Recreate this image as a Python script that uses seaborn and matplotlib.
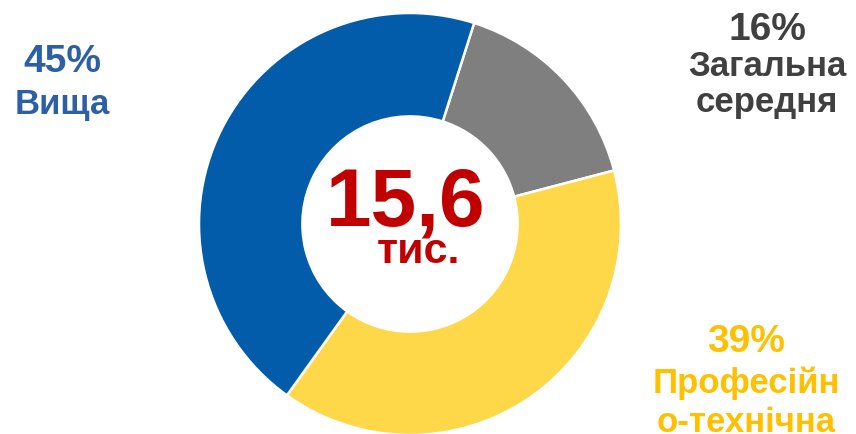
import matplotlib
matplotlib.use("Agg")
import matplotlib.pyplot as plt
import seaborn as sns

# частки за рівнем освіти, %
categories = ["Загальна\nсередня", "Професійн\nо-технічна", "Вища"]
shares = [16, 39, 45]
total_label = "15,6"
total_unit = "тис."

wedge_colors = sns.color_palette(["#7f7f7f", "#ffd84a", "#035ca9"])
text_colors = ["#404040", "#ffc000", "#2d5fa6"]

sns.set_style("white")
plt.rcParams['font.family'] = ['Liberation Sans', 'DejaVu Sans']

W, H = 856, 434
fig = plt.figure(figsize=(W / 100, H / 100), dpi=100)
ax = fig.add_axes([0, 0, 1, 1])

cx, cy, r = 410, H - 224, 211
ax.pie(shares, colors=wedge_colors, startangle=72.3, counterclock=False,
       center=(cx, cy), radius=r, frame=True,
       wedgeprops=dict(width=r * 0.49, edgecolor="white", linewidth=1.8))
ax.set_xlim(0, W)
ax.set_ylim(0, H)
ax.set_aspect("equal")
ax.axis("off")

# підписи: (x, базова лінія відсотка, базові лінії назви)
label_pos = [
    (767, 40, [76, 112]),
    (746, 352, [393, 432]),
    (62, 72, [114]),
]
for (name, val, col, (x, yp, yn)) in zip(categories, shares, text_colors, label_pos):
    ax.text(x, H - yp, f"{val}%", color=col, fontsize=28, fontweight="bold",
            ha="center", va="baseline")
    for line, yl in zip(name.split("\n"), yn):
        ax.text(x, H - yl, line, color=col, fontsize=25, fontweight="bold",
                ha="center", va="baseline")

ax.text(406, H - 225, total_label, color="#c00000", fontsize=59, fontweight="bold",
        ha="center", va="baseline")
ax.text(419, H - 263, total_unit, color="#c00000", fontsize=31, fontweight="bold",
        ha="center", va="baseline")

fig.savefig("out.png", dpi=100, facecolor="white")
